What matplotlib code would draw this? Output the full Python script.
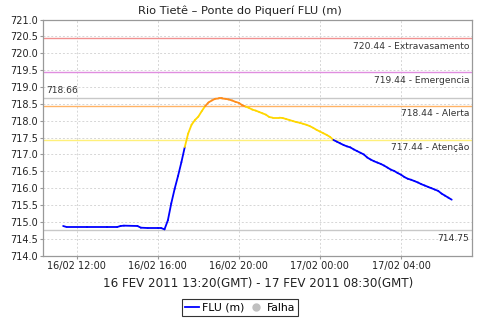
import pandas as pd
import matplotlib
matplotlib.use("Agg")
import matplotlib.pyplot as plt
import matplotlib.dates as mdates
from matplotlib.lines import Line2D

# leituras (hora local) e cota em metros
times = [
    "2011-02-16 11:20", "2011-02-16 11:30", "2011-02-16 12:30", "2011-02-16 13:30",
    "2011-02-16 14:00", "2011-02-16 14:10", "2011-02-16 14:20", "2011-02-16 15:00",
    "2011-02-16 15:10", "2011-02-16 15:30", "2011-02-16 16:00", "2011-02-16 16:10",
    "2011-02-16 16:20", "2011-02-16 16:30", "2011-02-16 16:40", "2011-02-16 16:50",
    "2011-02-16 17:00", "2011-02-16 17:10", "2011-02-16 17:20", "2011-02-16 17:30",
    "2011-02-16 17:40", "2011-02-16 17:50", "2011-02-16 18:00", "2011-02-16 18:10",
    "2011-02-16 18:20", "2011-02-16 18:30", "2011-02-16 18:40", "2011-02-16 18:50",
    "2011-02-16 19:00", "2011-02-16 19:10", "2011-02-16 19:20", "2011-02-16 19:30",
    "2011-02-16 19:40", "2011-02-16 19:50", "2011-02-16 20:00", "2011-02-16 20:10",
    "2011-02-16 20:20", "2011-02-16 20:30", "2011-02-16 20:40", "2011-02-16 20:50",
    "2011-02-16 21:00", "2011-02-16 21:10", "2011-02-16 21:20", "2011-02-16 21:30",
    "2011-02-16 21:40", "2011-02-16 22:00", "2011-02-16 22:10", "2011-02-16 22:20",
    "2011-02-16 22:30", "2011-02-16 22:40", "2011-02-16 22:50", "2011-02-16 23:00",
    "2011-02-16 23:10", "2011-02-16 23:20", "2011-02-16 23:30", "2011-02-16 23:40",
    "2011-02-16 23:50", "2011-02-17 00:00", "2011-02-17 00:10", "2011-02-17 00:20",
    "2011-02-17 00:30", "2011-02-17 00:40", "2011-02-17 00:50", "2011-02-17 01:00",
    "2011-02-17 01:10", "2011-02-17 01:20", "2011-02-17 01:30", "2011-02-17 01:40",
    "2011-02-17 01:50", "2011-02-17 02:00", "2011-02-17 02:10", "2011-02-17 02:20",
    "2011-02-17 02:30", "2011-02-17 02:40", "2011-02-17 02:50", "2011-02-17 03:00",
    "2011-02-17 03:10", "2011-02-17 03:20", "2011-02-17 03:30", "2011-02-17 03:40",
    "2011-02-17 03:50", "2011-02-17 04:00", "2011-02-17 04:10", "2011-02-17 04:20",
    "2011-02-17 04:30", "2011-02-17 04:40", "2011-02-17 04:50", "2011-02-17 05:00",
    "2011-02-17 05:10", "2011-02-17 05:20", "2011-02-17 05:30", "2011-02-17 05:40",
    "2011-02-17 05:50", "2011-02-17 06:00", "2011-02-17 06:10", "2011-02-17 06:20",
    "2011-02-17 06:30",
]
levels = [
    714.88, 714.85, 714.85, 714.85, 714.85, 714.88, 714.89, 714.88,
    714.83, 714.82, 714.82, 714.82, 714.78, 715.05, 715.55, 715.98,
    716.36, 716.77, 717.22, 717.62, 717.88, 718.02, 718.12, 718.28,
    718.43, 718.54, 718.60, 718.65, 718.66, 718.66, 718.65, 718.63,
    718.60, 718.56, 718.53, 718.46, 718.42, 718.38, 718.33, 718.30,
    718.26, 718.22, 718.18, 718.11, 718.09, 718.09, 718.08, 718.05,
    718.02, 717.99, 717.96, 717.94, 717.91, 717.88, 717.84, 717.79,
    717.73, 717.68, 717.63, 717.58, 717.52, 717.43, 717.38, 717.33,
    717.28, 717.24, 717.21, 717.15, 717.10, 717.05, 717.00, 716.91,
    716.85, 716.80, 716.76, 716.72, 716.67, 716.61, 716.55, 716.51,
    716.45, 716.40, 716.33, 716.28, 716.25, 716.21, 716.17, 716.12,
    716.08, 716.04, 716.00, 715.96, 715.92, 715.84, 715.78, 715.72,
    715.66,
]

# cotas de referencia
thr_values = [720.44, 719.44, 718.44, 717.44]
thr_names = ["Extravasamento", "Emergencia", "Alerta", "Atenção"]
thr_colors = ["#f09090", "#e08ee0", "#ffb366", "#fff07a"]
max_level = 718.66
min_level = 714.75

t = pd.to_datetime(times)

fig = plt.figure(figsize=(4.8, 3.2), dpi=100)
ax = fig.add_axes([0.090, 0.201, 0.894, 0.738])

ax.set_xlim(pd.Timestamp("2011-02-16 10:21"), pd.Timestamp("2011-02-17 07:31"))
ax.set_ylim(714.0, 721.0)

# linhas de referencia
for v, name, c in zip(thr_values, thr_names, thr_colors):
    ax.axhline(v, color=c, lw=1.0, zorder=2)
    ax.text(0.993, v - 0.1, f"{v:.2f} - {name}", transform=ax.get_yaxis_transform(),
            ha="right", va="top", fontsize=6.6, color="#333333")
ax.axhline(max_level, color="#c8c8c8", lw=1.0, zorder=2)
ax.text(0.007, max_level + 0.1, f"{max_level:.2f}", transform=ax.get_yaxis_transform(),
        ha="left", va="bottom", fontsize=6.6, color="#333333")
ax.axhline(min_level, color="#c8c8c8", lw=1.0, zorder=2)
ax.text(0.993, min_level - 0.1, f"{min_level:.2f}", transform=ax.get_yaxis_transform(),
        ha="right", va="top", fontsize=6.6, color="#333333")

# serie colorida pela faixa de cota
def seg_color(v):
    if v >= 718.44:
        return "#ff8c1a"
    if v > 717.44:
        return "#ffd700"
    return "#0000ff"

for i in range(len(t) - 1):
    v = max(levels[i], levels[i + 1])
    ax.plot(t[i:i + 2], levels[i:i + 2], color=seg_color(v), lw=1.3,
            solid_capstyle="round", zorder=3)

ax.set_yticks([714.0 + 0.5 * k for k in range(15)])
ax.yaxis.set_major_formatter(plt.FuncFormatter(lambda v, p: f"{v:.1f}"))
ax.xaxis.set_major_locator(mdates.HourLocator(byhour=[0, 4, 8, 12, 16, 20]))
ax.xaxis.set_major_formatter(mdates.DateFormatter("%d/%m %H:%M"))

ax.grid(True, color="#d6d6d6", ls=(0, (2, 2)), lw=0.7)
ax.set_axisbelow(True)
for s in ax.spines.values():
    s.set_color("#999999")
    s.set_linewidth(0.9)
ax.tick_params(axis="both", length=2, color="#999999", labelsize=7, pad=2, labelcolor="#222222")

fig.text(0.5, 0.967, "Rio Tietê – Ponte do Piquerí FLU (m)", ha="center", va="center",
         fontsize=8.2, color="#222222")
ax.set_xlabel("16 FEV 2011 13:20(GMT) - 17 FEV 2011 08:30(GMT)", fontsize=8.6,
              color="#222222", labelpad=4)

handles = [
    Line2D([], [], color="#0000ff", lw=1.3),
    Line2D([], [], color="#c0c0c0", marker="o", ls="none", markersize=5),
]
leg = fig.legend(handles, ["FLU (m)", "Falha"], loc="center", bbox_to_anchor=(0.5, 0.039),
                 ncol=2, fontsize=7.8, frameon=True, fancybox=False, edgecolor="black",
                 handlelength=1.3, handletextpad=0.3, columnspacing=0.4, borderpad=0.3)
leg.get_frame().set_linewidth(0.8)

fig.savefig("out.png", dpi=100)
